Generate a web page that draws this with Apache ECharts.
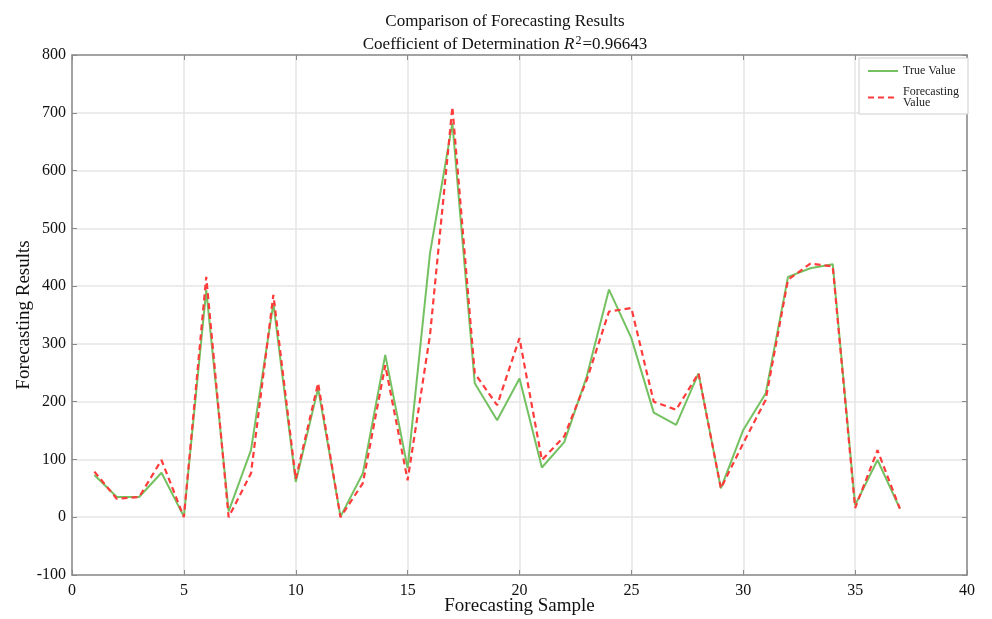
<!DOCTYPE html>
<html>
<head>
<meta charset="utf-8">
<script src="https://cdn.jsdelivr.net/npm/echarts@6/dist/echarts.min.js"></script>
<style>
  html, body { margin: 0; padding: 0; background: #fff; }
  #chart { width: 992px; height: 619px; }
</style>
</head>
<body>
<div id="chart"></div>
<script>
// Forecasting samples 1..37
const samples = [1, 2, 3, 4, 5, 6, 7, 8, 9, 10, 11, 12, 13, 14, 15, 16, 17, 18, 19,
    20, 21, 22, 23, 24, 25, 26, 27, 28, 29, 30, 31, 32, 33, 34, 35, 36, 37];
const trueValues = [73, 35, 35, 77, 1, 393, 10, 116, 370, 61, 223, 1, 76, 281, 85, 457, 682, 232, 168,
    240, 86, 130, 243, 394, 310, 181, 160, 249, 50, 151, 214, 416, 431, 438, 21, 99, 15];
const forecastValues = [79, 32, 35, 99, 0, 416, 0, 76, 385, 66, 232, 0, 59, 263, 64, 315, 710, 249, 194,
    310, 99, 140, 237, 356, 362, 200, 186, 249, 50, 128, 203, 411, 439, 434, 16, 116, 15];
const xTicks = { min: 0, max: 40, interval: 5 };
const yTicks = { min: -100, max: 800, interval: 100 };

const serif = '"Liberation Serif", "DejaVu Serif", serif';
const axisGrey = '#8a8a8a';

function pairs(values) {
    return samples.map((s, i) => [s, values[i]]);
}

const chart = echarts.init(document.getElementById('chart'), null, { renderer: 'canvas' });

// top / right axes only draw the frame and the inward ticks
const frameAxis = {
    axisLine: { show: true, onZero: false, lineStyle: { color: axisGrey, width: 1.5 } },
    axisTick: { show: true, inside: true, length: 5, lineStyle: { color: axisGrey } },
    axisLabel: { show: false },
    splitLine: { show: false }
};

chart.setOption({
    backgroundColor: '#fff',
    animation: false,
    title: [
        {
            text: 'Comparison of Forecasting Results',
            left: 500, top: 8, textAlign: 'center',
            textStyle: { fontFamily: serif, fontSize: 17, fontWeight: 'normal', color: '#111' }
        },
        {
            text: 'Coefficient of Determination {i|R}{sup|2}=0.96643',
            left: 500, top: 30, textAlign: 'center',
            textStyle: {
                fontFamily: serif, fontSize: 17, fontWeight: 'normal', color: '#111',
                rich: {
                    i: { fontFamily: serif, fontSize: 17, fontStyle: 'italic', color: '#111' },
                    sup: { fontFamily: serif, fontSize: 12, color: '#111', verticalAlign: 'top', padding: [0, 1, 8, 1] }
                }
            }
        }
    ],
    legend: {
        orient: 'vertical',
        right: 24, top: 58,
        backgroundColor: '#fff',
        borderColor: '#cfcfcf',
        borderWidth: 1,
        borderRadius: 0,
        padding: [7, 9, 5, 8],
        itemGap: 9,
        itemWidth: 30,
        itemHeight: 10,
        itemStyle: { opacity: 0 },
        formatter: name => name === 'Forecasting Value' ? 'Forecasting\nValue' : name,
        textStyle: { fontFamily: serif, fontSize: 12, color: '#222', lineHeight: 11 },
        data: ['True Value', 'Forecasting Value']
    },
    grid: { left: 72, right: 25, top: 55, bottom: 44, containLabel: false, outerBoundsMode: 'none' },
    xAxis: [
        {
            type: 'value', min: xTicks.min, max: xTicks.max, interval: xTicks.interval,
            name: 'Forecasting Sample', nameLocation: 'middle', nameGap: 22, nameMoveOverlap: false,
            nameTextStyle: { fontFamily: serif, fontSize: 19, color: '#111' },
            axisLine: { show: true, onZero: false, lineStyle: { color: axisGrey, width: 1.5 } },
            axisTick: { show: true, inside: true, length: 5, lineStyle: { color: axisGrey } },
            axisLabel: { fontFamily: serif, fontSize: 16, color: '#111', margin: 8 },
            splitLine: { show: true, lineStyle: { color: '#e6e6e6', width: 1.5 } }
        },
        Object.assign({ type: 'value', position: 'top', min: xTicks.min, max: xTicks.max, interval: xTicks.interval }, frameAxis)
    ],
    yAxis: [
        {
            type: 'value', min: yTicks.min, max: yTicks.max, interval: yTicks.interval,
            name: 'Forecasting Results', nameLocation: 'middle', nameGap: 38, nameMoveOverlap: false,
            nameTextStyle: { fontFamily: serif, fontSize: 19, color: '#111' },
            axisLine: { show: true, onZero: false, lineStyle: { color: axisGrey, width: 1.5 } },
            axisTick: { show: true, inside: true, length: 5, lineStyle: { color: axisGrey } },
            axisLabel: { fontFamily: serif, fontSize: 16, color: '#111', margin: 6 },
            splitLine: { show: true, lineStyle: { color: '#e6e6e6', width: 1.5 } }
        },
        Object.assign({ type: 'value', position: 'right', min: yTicks.min, max: yTicks.max, interval: yTicks.interval }, frameAxis)
    ],
    series: [
        {
            name: 'True Value',
            type: 'line',
            data: pairs(trueValues),
            symbol: 'none',
            lineStyle: { color: '#74c162', width: 2 },
            itemStyle: { color: '#74c162' },
            z: 2
        },
        {
            name: 'Forecasting Value',
            type: 'line',
            data: pairs(forecastValues),
            symbol: 'none',
            lineStyle: { color: '#ff3b3b', width: 2.2, type: [6, 4] },
            itemStyle: { color: '#ff3b3b' },
            z: 3
        }
    ]
});
</script>
</body>
</html>
